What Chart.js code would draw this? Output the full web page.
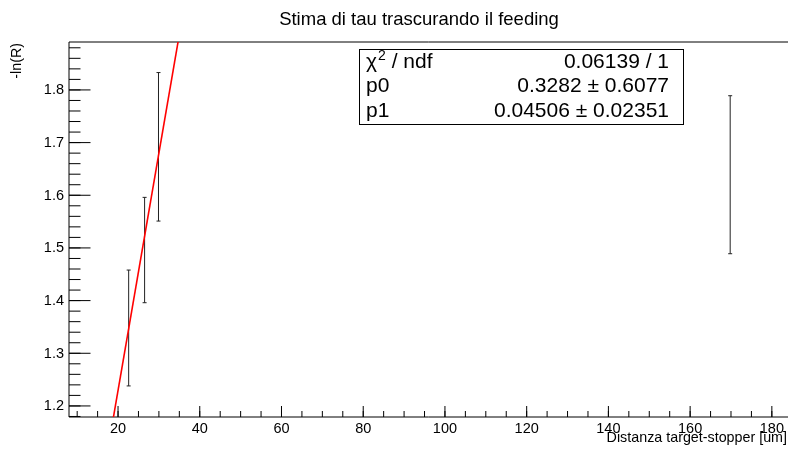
<!DOCTYPE html>
<html>
<head>
<meta charset="utf-8">
<title>Stima di tau trascurando il feeding</title>
<script src="https://cdn.jsdelivr.net/npm/chart.js@4.4.1/dist/chart.umd.min.js"></script>
<style>
  html, body { margin: 0; padding: 0; background: #fff; overflow: hidden; }
  #plot { display: block; }
</style>
</head>
<body>
<canvas id="plot" width="788" height="453"></canvas>
<script>
// measured points (distance, -ln(R), error)
const distances = [22.6, 26.5, 29.9, 169.8];
const lnR = [1.348, 1.496, 1.692, 1.639];
const lnRErr = [0.110, 0.100, 0.141, 0.150];

// linear fit pol1: p0 + p1*x
const fitParams = [0.3282, 0.04506];

// axis ticks
const xTickLabels = ['20', '40', '60', '80', '100', '120', '140', '160', '180'];
const yTickLabels = ['1.2', '1.3', '1.4', '1.5', '1.6', '1.7', '1.8'];

// stats box
const statNames = ['χ2 / ndf', 'p0', 'p1'];
const statValues = ['0.06139 / 1', '0.3282 \u00b1 0.6077', '0.04506 \u00b1 0.02351'];

const X_MIN = 8, X_MAX = 183.95;
const Y_MIN = 1.179, Y_MAX = 1.891;
const FONT = '"Liberation Sans", Arial, Helvetica, sans-serif';

(function() {
  // error bars as one broken line: low, high, gap
  const errData = [];
  distances.forEach((d, i) => {
    errData.push({ x: d, y: lnR[i] - lnRErr[i] });
    errData.push({ x: d, y: lnR[i] + lnRErr[i] });
    errData.push({ x: d, y: null });
  });

  const fitData = [X_MIN, X_MAX].map(v => ({ x: v, y: fitParams[0] + fitParams[1] * v }));

  const framePlugin = {
    id: 'rootFrame',
    beforeDatasetsDraw(chart) {
      const { ctx, chartArea: a, scales } = chart;
      const xs = scales.x, ys = scales.y;
      ctx.save();
      ctx.strokeStyle = '#000';
      ctx.lineWidth = 1;

      // frame (right side is off the canvas)
      ctx.beginPath();
      ctx.moveTo(a.left, a.top); ctx.lineTo(a.right, a.top);
      ctx.moveTo(a.left, a.top); ctx.lineTo(a.left, a.bottom);
      ctx.lineTo(a.right, a.bottom);
      ctx.stroke();

      // x ticks, inside
      ctx.beginPath();
      for (let v = 10; v <= X_MAX; v += 5) {
        const px = xs.getPixelForValue(v);
        ctx.moveTo(px, a.bottom); ctx.lineTo(px, a.bottom - 6);
      }
      xTickLabels.forEach(t => {
        const px = xs.getPixelForValue(parseFloat(t));
        ctx.moveTo(px, a.bottom); ctx.lineTo(px, a.bottom - 11);
      });
      // y ticks, inside
      for (let k = 59; k <= 94; k++) {
        const py = ys.getPixelForValue(k * 0.02);
        ctx.moveTo(a.left, py); ctx.lineTo(a.left + 11.5, py);
      }
      yTickLabels.forEach(t => {
        const py = ys.getPixelForValue(parseFloat(t));
        ctx.moveTo(a.left, py); ctx.lineTo(a.left + 21.5, py);
      });
      ctx.stroke();

      // tick labels
      ctx.fillStyle = '#000';
      ctx.font = '14.5px ' + FONT;
      ctx.textAlign = 'center';
      ctx.textBaseline = 'top';
      xTickLabels.forEach(t => {
        ctx.fillText(t, xs.getPixelForValue(parseFloat(t)), a.bottom + 5);
      });
      ctx.textAlign = 'right';
      ctx.textBaseline = 'middle';
      yTickLabels.forEach(t => {
        ctx.fillText(t, a.left - 5, ys.getPixelForValue(parseFloat(t)) + 0.5);
      });

      // axis titles
      ctx.font = '14.3px ' + FONT;
      ctx.textAlign = 'right';
      ctx.textBaseline = 'alphabetic';
      ctx.fillText('Distanza target-stopper [um]', 787, 442);
      ctx.save();
      ctx.translate(21, a.top + 1);
      ctx.rotate(-Math.PI / 2);
      ctx.textAlign = 'right';
      ctx.fillText('-ln(R)', 0, 0);
      ctx.restore();

      // title
      ctx.font = '18.5px ' + FONT;
      ctx.textAlign = 'center';
      ctx.fillText('Stima di tau trascurando il feeding', 419, 25);
      ctx.restore();
    },
    afterDatasetsDraw(chart) {
      const { ctx } = chart;
      ctx.save();
      // stats box
      ctx.fillStyle = '#fff';
      ctx.fillRect(359.5, 49.5, 324, 75);
      ctx.strokeStyle = '#000';
      ctx.lineWidth = 1;
      ctx.strokeRect(359.5, 49.5, 324, 75);

      ctx.fillStyle = '#000';
      ctx.textBaseline = 'alphabetic';
      const rows = [67.5, 92, 116.5];
      const size = 21;
      statNames.forEach((name, i) => {
        ctx.font = size + 'px ' + FONT;
        ctx.textAlign = 'left';
        if (name.indexOf('χ2') === 0) {
          ctx.fillText('χ', 366, rows[i]);
          const w = ctx.measureText('χ').width;
          ctx.font = '14px ' + FONT;
          ctx.fillText('2', 366 + w + 1, rows[i] - 8);
          const w2 = ctx.measureText('2').width;
          ctx.font = size + 'px ' + FONT;
          ctx.fillText(name.slice(2), 366 + w + w2 + 1, rows[i]);
        } else {
          ctx.fillText(name, 366, rows[i]);
        }
        ctx.textAlign = 'right';
        ctx.fillText(statValues[i], 669, rows[i]);
      });
      ctx.restore();
    }
  };

  new Chart(document.getElementById('plot'), {
    type: 'scatter',
    data: {
      datasets: [
        {
          label: 'fit',
          data: fitData,
          showLine: true,
          borderColor: '#ff0000',
          borderWidth: 1.6,
          pointRadius: 0,
        },
        {
          label: 'dati',
          data: errData,
          showLine: true,
          spanGaps: false,
          borderColor: '#222',
          borderWidth: 1,
          pointStyle: 'line',
          pointRadius: 2,
          pointBorderWidth: 1,
          pointBorderColor: '#222',
        }
      ]
    },
    options: {
      responsive: false,
      animation: false,
      events: [],
      layout: { autoPadding: false, padding: { left: 69, top: 42, right: 0, bottom: 36 } },
      plugins: {
        legend: { display: false },
        title: { display: false },
        tooltip: { enabled: false }
      },
      scales: {
        x: { type: 'linear', min: X_MIN, max: X_MAX, display: false },
        y: { type: 'linear', min: Y_MIN, max: Y_MAX, display: false }
      }
    },
    plugins: [framePlugin]
  });
})();
</script>
</body>
</html>
